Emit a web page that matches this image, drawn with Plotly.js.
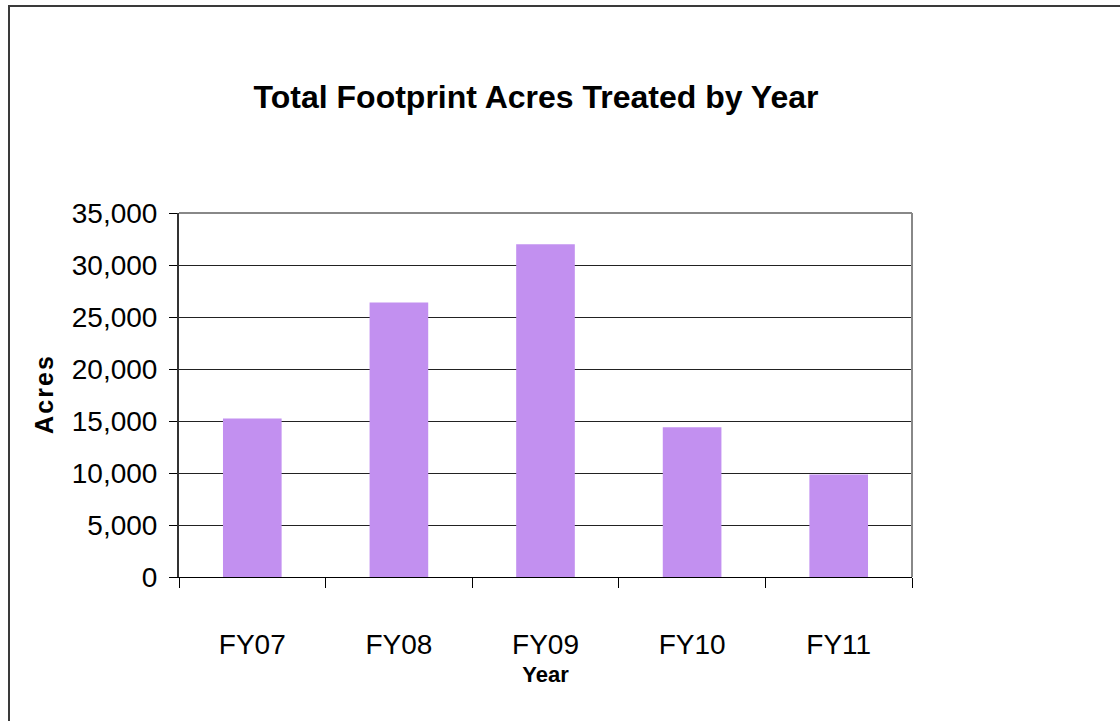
<!DOCTYPE html>
<html>
<head>
<meta charset="utf-8">
<script src="https://cdn.plot.ly/plotly-3.0.1.min.js"></script>
<style>
  html, body { margin: 0; padding: 0; background: #fff; }
  #chart { width: 1120px; height: 721px; }
  #frame { position: absolute; left: 8px; top: 5px; width: 2000px; height: 2000px;
           border-left: 2px solid #3a3a3a; border-top: 2px solid #3a3a3a; pointer-events: none; }
</style>
</head>
<body>
<div id="chart"></div>
<div id="frame"></div>
<script>
const years = ["FY07", "FY08", "FY09", "FY10", "FY11"];
const acres = [15250, 26400, 32000, 14400, 9850];
const yTicks = [0, 5000, 10000, 15000, 20000, 25000, 30000, 35000];

const font = "Liberation Sans, Arial, sans-serif";
const hs = "\u200A";

const trace = {
  type: "bar",
  x: years,
  y: acres,
  marker: { color: "#c290f0", line: { width: 0 } },
  hoverinfo: "x+y"
};

const layout = {
  width: 1120,
  height: 721,
  paper_bgcolor: "#ffffff",
  plot_bgcolor: "#ffffff",
  margin: { l: 179, r: 208, t: 213, b: 144 },
  showlegend: false,
  bargap: 0.6,
  font: { family: font, color: "#000" },
  title: {
    text: "<b>Total Footprint Acres Treated by Year</b>",
    font: { family: font, size: 32, color: "#000" },
    xref: "container", yref: "container",
    x: 0.4786, y: 1 - 97 / 721,
    xanchor: "center", yanchor: "middle"
  },
  xaxis: {
    type: "category",
    tickson: "boundaries",
    ticks: "outside",
    ticklen: 10,
    tickwidth: 1,
    tickcolor: "#000",
    showline: true,
    linecolor: "#000",
    linewidth: 1,
    showgrid: false,
    mirror: false,
    tickfont: { family: font, size: 28, color: "#000" },
    ticklabelstandoff: 42,
    title: { text: "<b>Year</b>", font: { family: font, size: 22, color: "#000" }, standoff: 8 },
    automargin: false
  },
  yaxis: {
    range: [0, 35000],
    tickvals: yTicks,
    tickformat: ",d",
    ticks: "outside",
    ticklen: 8,
    tickwidth: 1,
    tickcolor: "#000",
    showline: true,
    linecolor: "#333",
    linewidth: 2,
    showgrid: true,
    gridcolor: "#222",
    gridwidth: 1,
    zeroline: false,
    tickfont: { family: font, size: 28, color: "#000" },
    ticklabelstandoff: 6,
    title: { text: "<b>A" + hs + "c" + hs + "r" + hs + "e" + hs + "s</b>", font: { family: font, size: 25, color: "#000" }, standoff: 11 },
    automargin: false
  },
  shapes: [
    { type: "line", xref: "paper", yref: "paper", x0: 0, x1: 1, y0: 1, y1: 1, line: { color: "#888", width: 2 } },
    { type: "line", xref: "paper", yref: "paper", x0: 1, x1: 1, y0: 0, y1: 1, line: { color: "#888", width: 2 } }
  ]
};

Plotly.newPlot("chart", [trace], layout, { displayModeBar: false, staticPlot: true });
</script>
</body>
</html>
